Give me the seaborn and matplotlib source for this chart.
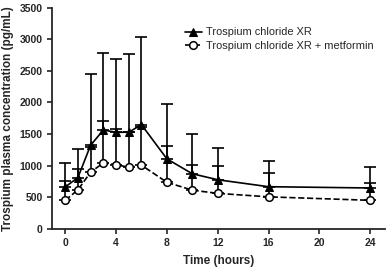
import matplotlib
matplotlib.use('Agg')
import matplotlib.pyplot as plt
import seaborn as sns
import numpy as np
import pandas as pd

sns.set_style("ticks")
plt.rcParams['font.family'] = ['Liberation Sans', 'DejaVu Sans']

# time points (hours)
time = [0, 1, 2, 3, 4, 5, 6, 8, 10, 12, 16, 24]
# Trospium chloride XR: mean and upper SD
xr_mean = [665, 815, 1325, 1565, 1530, 1530, 1650, 1110, 875, 780, 670, 650]
xr_sd = [385, 450, 1130, 1210, 1155, 1240, 1390, 865, 620, 505, 405, 335]
# Trospium chloride XR + metformin
met_mean = [455, 620, 900, 1045, 1020, 975, 1010, 740, 615, 565, 510, 455]
met_sd = [305, 330, 400, 660, 555, 560, 600, 570, 390, 435, 375, 270]

df = pd.DataFrame({
    'time': time * 2,
    'conc': xr_mean + met_mean,
    'group': ['Trospium chloride XR'] * len(time) + ['Trospium chloride XR + metformin'] * len(time),
})

fig = plt.figure(figsize=(3.87, 2.68), dpi=100)
ax = fig.add_axes([0.134, 0.145, 0.862, 0.827])

# upward-only error bars
ax.errorbar(time, xr_mean, yerr=[np.zeros(len(time)), xr_sd], fmt='none',
            ecolor='black', elinewidth=1.2, capsize=4, capthick=1.2, zorder=2)
ax.errorbar(time, met_mean, yerr=[np.zeros(len(time)), met_sd], fmt='none',
            ecolor='black', elinewidth=1.2, capsize=4, capthick=1.2, zorder=2)

sns.lineplot(data=df[df['group'] == 'Trospium chloride XR'], x='time', y='conc', ax=ax,
             color='black', lw=1.2, marker='^', markersize=5.5, markerfacecolor='black',
             markeredgecolor='black', label='Trospium chloride XR', zorder=3)
sns.lineplot(data=df[df['group'] != 'Trospium chloride XR'], x='time', y='conc', ax=ax,
             color='black', lw=1.2, linestyle='--', dashes=(3, 2), marker='o', markersize=5.5,
             markerfacecolor='white', markeredgecolor='black', markeredgewidth=1.1,
             label='Trospium chloride XR + metformin', zorder=3)

ax.set_xlim(-1.05, 25.2)
ax.set_ylim(0, 3500)
ax.set_xticks([0, 4, 8, 12, 16, 20, 24])
ax.set_yticks(range(0, 3501, 500))
ax.tick_params(labelsize=7.5, width=1.2, length=3.5, direction='out', pad=3)
for lbl in ax.get_xticklabels() + ax.get_yticklabels():
    lbl.set_fontweight('bold')
ax.set_xlabel('Time (hours)', fontsize=8.5, fontweight='bold', labelpad=5)
ax.set_ylabel('Trospium plasma concentration (pg/mL)', fontsize=8.5, fontweight='bold', labelpad=4)
sns.despine(ax=ax)
for s in ['left', 'bottom']:
    ax.spines[s].set_linewidth(1.3)

leg = ax.legend(loc='upper left', bbox_to_anchor=(0.385, 0.93), frameon=False, fontsize=7.9,
                handlelength=1.6, handletextpad=0.3, labelspacing=0.35, borderaxespad=0)

plt.savefig('out.png', dpi=100)
plt.close()
